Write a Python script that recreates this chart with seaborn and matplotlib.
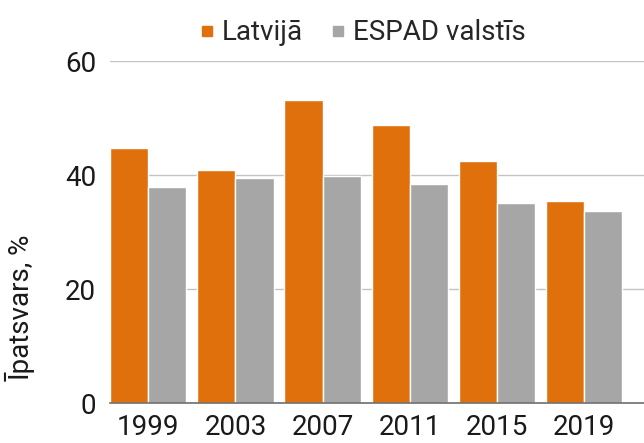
import matplotlib
matplotlib.use('Agg')
import matplotlib.pyplot as plt
import seaborn as sns
import pandas as pd
from matplotlib.lines import Line2D

years = ['1999', '2003', '2007', '2011', '2015', '2019']
latvia = [44.8, 41.0, 53.3, 48.8, 42.5, 35.5]
espad = [38.0, 39.6, 39.9, 38.4, 35.2, 33.7]
series_names = ['Latvijā', 'ESPAD valstīs']
colors = ['#E0700C', '#A6A6A6']

df = pd.DataFrame({
    'year': years * 2,
    'value': latvia + espad,
    'group': [series_names[0]] * len(years) + [series_names[1]] * len(years),
})

sns.set_theme(style='white')
plt.rcParams['font.family'] = ['Roboto', 'DejaVu Sans']

fig = plt.figure(figsize=(6.44, 4.43), dpi=100)
ax = fig.add_axes([0.1708, 0.0896, 0.8292, 0.772])

sns.barplot(data=df, x='year', y='value', hue='group', palette=colors,
            width=0.875, edgecolor='white', linewidth=1.0, saturation=1,
            legend=False, ax=ax)

ax.set_xlim(-0.44, 5.69)
ax.set_ylim(0, 60)
ax.set_yticks([0, 20, 40, 60])
ax.yaxis.grid(True, color='#C4C4C4', linewidth=1.0)
ax.set_axisbelow(True)
for side in ['left', 'right', 'top']:
    ax.spines[side].set_visible(False)
ax.spines['bottom'].set_color('#6E6E6E')
ax.spines['bottom'].set_linewidth(1.2)
ax.tick_params(axis='both', length=0, labelsize=20, colors='#1A1A1A')
ax.tick_params(axis='y', pad=10)
ax.tick_params(axis='x', pad=8)
ax.set_xlabel('')
ax.set_ylabel('Īpatsvars, %', fontsize=20, color='#1A1A1A')
ax.yaxis.set_label_coords(-0.14, 0.28)

handles = [Line2D([0], [0], marker='s', color='none', markerfacecolor=c,
                  markeredgecolor=c, markersize=7) for c in colors]
fig.legend(handles, series_names, loc='center', bbox_to_anchor=(363 / 644, 1 - 33 / 443),
           ncol=2, frameon=False, fontsize=20, handlelength=0.5, handletextpad=0.3,
           columnspacing=1.0)

fig.savefig('out.png', dpi=100)
